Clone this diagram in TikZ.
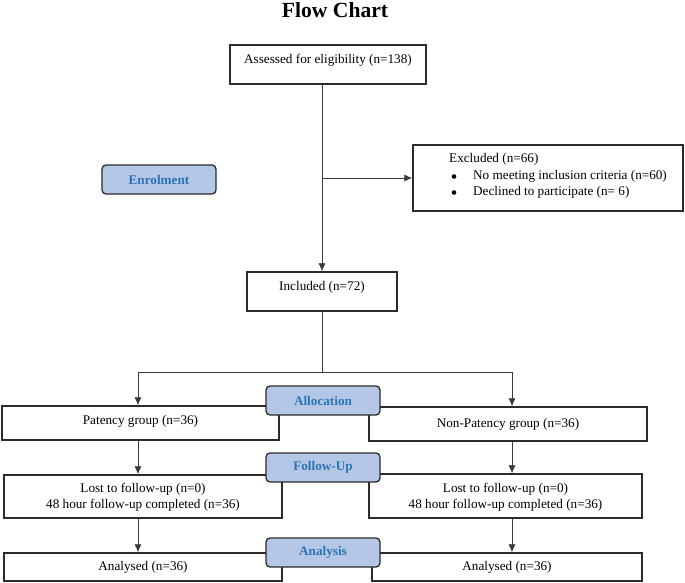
\documentclass[tikz,border=0pt]{standalone}
\usepackage{fontspec}
\setmainfont{Liberation Serif}
\usetikzlibrary{arrows.meta}
\definecolor{lblfill}{HTML}{B4C7E7}
\definecolor{lbltext}{HTML}{2E74B5}
\definecolor{boxline}{HTML}{2B2B2B}
\definecolor{conline}{HTML}{3A3A3A}
\tikzset{
  box/.style={draw=boxline, line width=1.3pt, fill=white, inner sep=0pt, rectangle},
  lbl/.style={draw=boxline, line width=1.3pt, fill=lblfill, rounded corners=4pt, inner sep=0pt,
    minimum width=114pt, minimum height=29pt, text=lbltext, font=\fontsize{13.2}{15}\selectfont\bfseries},
  txt/.style={inner sep=0pt, font=\fontsize{13.2}{16}\selectfont, align=center},
  bul/.style={circle, fill=black, inner sep=0pt, minimum size=4.6pt},
  conn/.style={draw=conline, line width=0.75pt},
  arr/.style={conn, -{Latex[length=8pt,width=7pt]}}
}
\begin{document}
\begin{tikzpicture}[x=1pt,y=-1pt]
\useasboundingbox (0,0) rectangle (685,583);
\fill[white] (0,0) rectangle (685,583);

\node[inner sep=0pt, font=\fontsize{21.6}{24}\selectfont\bfseries] (title) at (335,10) {Flow Chart};

% boxes
\node[box, minimum width=196pt, minimum height=39pt] (assess) at (328,64.5) {};
\node[txt] (assesst) at (328,60) {Assessed for eligibility (n=138)};

\node[box, minimum width=270pt, minimum height=66pt] (excl) at (548,178) {};
\node[txt, anchor=west] (exclt) at (449,159) {Excluded (n=66)};
\node[bul] (b1) at (454,176.5) {};
\node[txt, anchor=west] (b1t) at (473,176) {No meeting inclusion criteria (n=60)};
\node[bul] (b2) at (454,192.5) {};
\node[txt, anchor=west] (b2t) at (473,192) {Declined to participate (n= 6)};

\node[box, minimum width=150pt, minimum height=39pt] (incl) at (322,291.5) {};
\node[txt] (inclt) at (322,287) {Included (n=72)};

\node[box, minimum width=277pt, minimum height=34pt] (pat) at (140.5,423) {};
\node[txt] (patt) at (140.5,421) {Patency group (n=36)};
\node[box, minimum width=278pt, minimum height=34pt] (npat) at (508,424) {};
\node[txt] (npatt) at (508,424) {Non-Patency group (n=36)};

\node[box, minimum width=278pt, minimum height=43pt] (lostL) at (143,496.5) {};
\node[txt] (lostLt) at (143,497) {Lost to follow-up (n=0)\\48 hour follow-up completed (n=36)};
\node[box, minimum width=273pt, minimum height=44pt] (lostR) at (505.5,496) {};
\node[txt] (lostRt) at (505.5,497) {Lost to follow-up (n=0)\\48 hour follow-up completed (n=36)};

\node[box, minimum width=278pt, minimum height=28pt] (anL) at (143,567) {};
\node[txt] (anLt) at (143,567) {Analysed (n=36)};
\node[box, minimum width=270pt, minimum height=28pt] (anR) at (507,567) {};
\node[txt] (anRt) at (507,567) {Analysed (n=36)};

% labels
\node[lbl] (enrol) at (159,179.5) {Enrolment};
\node[lbl] (alloc) at (323,400.5) {Allocation};
\node[lbl] (follow) at (323,467.5) {Follow-Up};
\node[lbl] (analysis) at (323,552.5) {Analysis};

% connectors
\coordinate (branch) at (322,178);
\coordinate (split) at (322,372);
\coordinate (lx) at (138,372);
\coordinate (rx) at (512,372);

\draw[arr] (incl.north |- assess.south) -- (incl.north);
\draw[arr] (branch) -- (excl.west |- branch);
\draw[conn] (incl.south) -- (split);
\draw[conn] (lx) -- (rx);
\draw[arr] (lx) -- (pat.north -| lx);
\draw[arr] (rx) -- (npat.north -| rx);
\draw[arr] (pat.south -| lx) -- (lostL.north -| lx);
\draw[arr] (npat.south -| rx) -- (lostR.north -| rx);
\draw[arr] (lostL.south -| lx) -- (anL.north -| lx);
\draw[arr] (lostR.south -| rx) -- (anR.north -| rx);
\end{tikzpicture}
\end{document}
